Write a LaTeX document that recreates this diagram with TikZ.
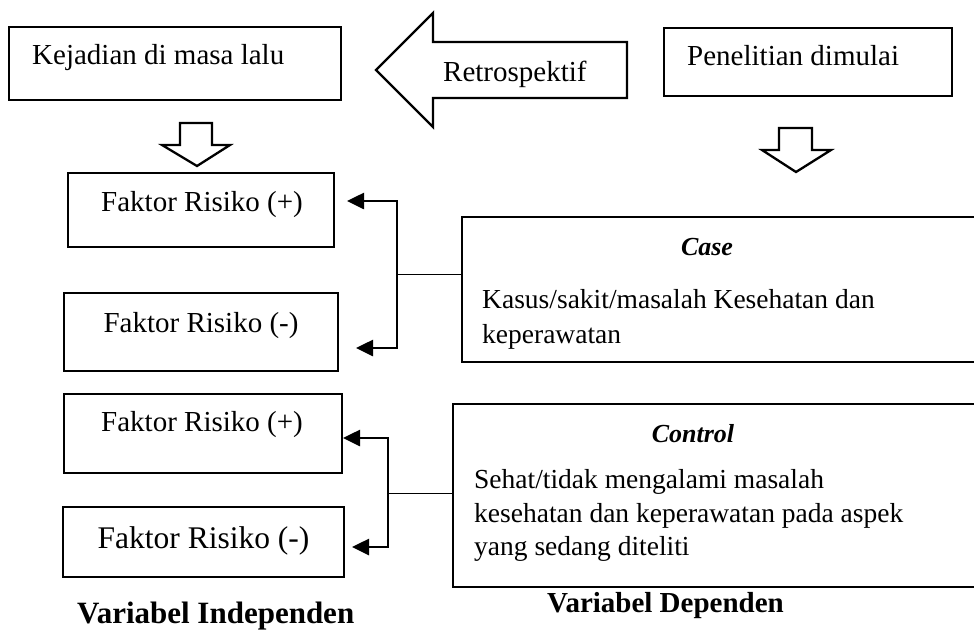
\documentclass[tikz,border=0pt]{standalone}
\usepackage{fontspec}
\setmainfont{Liberation Serif}
\usetikzlibrary{arrows.meta}
\begin{document}
\begin{tikzpicture}[x=1pt,y=-1pt,
  box/.style={draw, line width=2.7pt, inner sep=0pt},
  txt/.style={inner sep=0pt, font=\fontsize{29}{35}\selectfont},
  rtxt/.style={inner sep=0pt, font=\fontsize{27.5}{34}\selectfont},
  htxt/.style={inner sep=0pt, font=\fontsize{26}{30}\selectfont\bfseries\itshape},
  hollow/.style={draw, line width=2.3pt, line join=miter, fill=white},
  brk/.style={draw, line width=2.6pt, {Triangle[length=17pt,width=16pt]}-{Triangle[length=17pt,width=16pt]}},
  thinline/.style={draw, line width=1pt}]
\useasboundingbox (0,0) rectangle (974,630);
\clip (0,0) rectangle (974,630);
\fill[white] (0,0) rectangle (974,630);

% boxes
\node[box, minimum width=332pt, minimum height=73pt] (kej) at (175,63.5) {};
\node[box, minimum width=288pt, minimum height=68pt] (pen) at (808,62) {};
\node[box, minimum width=266pt, minimum height=74pt] (fp1) at (201,210) {};
\node[box, minimum width=274pt, minimum height=78pt] (fm1) at (201,332) {};
\node[box, minimum width=278pt, minimum height=79pt] (fp2) at (203,433.5) {};
\node[box, minimum width=281pt, minimum height=70pt] (fm2) at (203.5,542) {};
\node[box, minimum width=528pt, minimum height=145pt] (case) at (726,289.5) {};
\node[box, minimum width=537pt, minimum height=183pt] (ctrl) at (721.5,495.5) {};

% big hollow arrow (Retrospektif)
\draw[hollow] (376,70) -- (433,13) -- (433,42) -- (627,42) -- (627,98) -- (433,98) -- (433,127) -- cycle;
% small hollow down arrows
\draw[hollow] (180,123) -- (212,123) -- (212,145) -- (230,145) -- (197,166) -- (162,145) -- (180,145) -- cycle;
\draw[hollow] (779,128) -- (812,128) -- (812,150) -- (831,150) -- (796,172) -- (762,150) -- (779,150) -- cycle;

% texts
\node[txt, anchor=base west] (tkej) at (32,64) {Kejadian di masa lalu};
\node[txt, anchor=base west] (tret) at (443,81) {Retrospektif};
\node[txt, anchor=base west] (tpen) at (687,65) {Penelitian dimulai};
\node[txt, anchor=base] (tfp1) at (202,211) {Faktor Risiko (+)};
\node[txt, anchor=base] (tfm1) at (201,332) {Faktor Risiko (-)};
\node[txt, anchor=base] (tfp2) at (202,431) {Faktor Risiko (+)};
\node[inner sep=0pt, font=\fontsize{31.5}{36}\selectfont, anchor=base] (tfm2) at (203.5,548) {Faktor Risiko (-)};

\node[htxt, anchor=base] (tcase) at (707,255) {Case};
\node[rtxt, anchor=base west] (tk1) at (482,308) {Kasus/sakit/masalah Kesehatan dan};
\node[rtxt, anchor=base west] (tk2) at (482,343) {keperawatan};

\node[htxt, anchor=base] (tctrl) at (693,442) {Control};
\node[rtxt, anchor=base west] (tc1) at (474,488) {Sehat/tidak mengalami masalah};
\node[rtxt, anchor=base west] (tc2) at (474,522) {kesehatan dan keperawatan pada aspek};
\node[rtxt, anchor=base west] (tc3) at (474,555) {yang sedang diteliti};

\node[inner sep=0pt, font=\fontsize{31}{36}\selectfont\bfseries, anchor=base west] (vind) at (77,623) {Variabel Independen};
\node[inner sep=0pt, font=\fontsize{29}{34}\selectfont\bfseries, anchor=base west] (vdep) at (547,612) {Variabel Dependen};

% brackets
\coordinate (t1) at (347,201);
\coordinate (t2) at (356,348);
\coordinate (bar1) at (397,274);
\draw[brk] (t1) -- (t1 -| bar1) -- (t2 -| bar1) -- (t2);
\draw[thinline] (bar1) -- (bar1 -| case.west);

\coordinate (t3) at (343,438);
\coordinate (t4) at (352,547);
\coordinate (bar2) at (388,493);
\draw[brk] (t3) -- (t3 -| bar2) -- (t4 -| bar2) -- (t4);
\draw[thinline] (bar2) -- (bar2 -| ctrl.west);
\end{tikzpicture}
\end{document}
